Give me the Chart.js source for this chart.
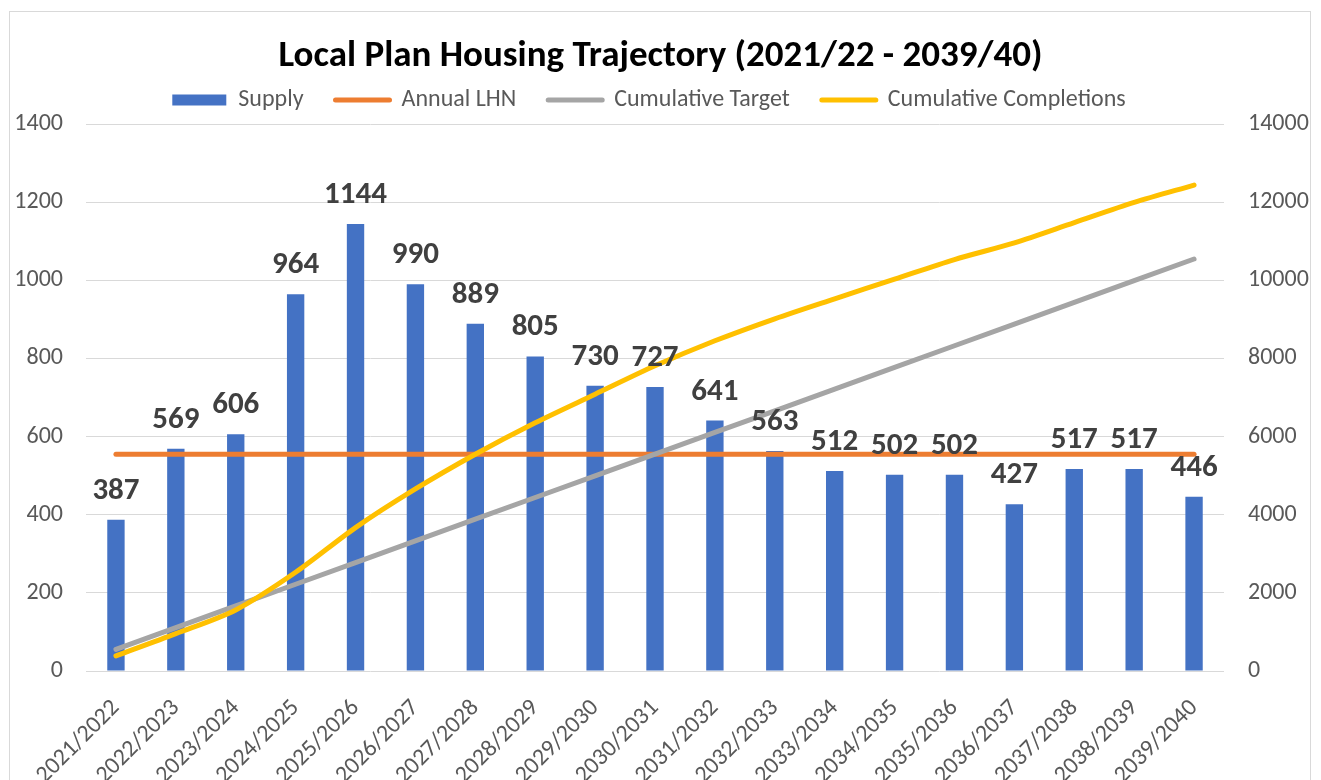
<!DOCTYPE html>
<html><head><meta charset="utf-8">
<script src="https://cdn.jsdelivr.net/npm/chart.js@4/dist/chart.umd.min.js"></script>
<style>
html,body{margin:0;padding:0;background:#fff;}
#wrap{position:relative;width:1321px;height:780px;overflow:hidden;}
#frame{position:absolute;left:9px;top:11px;width:1302px;height:820px;border:1.5px solid #d9d9d9;box-sizing:border-box;}
#c{position:absolute;left:0;top:0;}
</style></head><body>
<div id="wrap"><div id="frame"></div><canvas id="c" width="1321" height="780"></canvas></div>
<script>
const categories = ['2021/2022','2022/2023','2023/2024','2024/2025','2025/2026','2026/2027','2027/2028','2028/2029','2029/2030','2030/2031','2031/2032','2032/2033','2033/2034','2034/2035','2035/2036','2036/2037','2037/2038','2038/2039','2039/2040'];
const supply = [387,569,606,964,1144,990,889,805,730,727,641,563,512,502,502,427,517,517,446];
const annualLHN = [555,555,555,555,555,555,555,555,555,555,555,555,555,555,555,555,555,555,555];
const cumulativeTarget = [555,1110,1665,2220,2775,3330,3885,4440,4995,5550,6105,6660,7215,7770,8325,8880,9435,9990,10545];
const cumulativeCompletions = [387,956,1562,2526,3670,4660,5549,6354,7084,7811,8452,9015,9527,10029,10531,10958,11475,11992,12438];
const leftTicks = [0,200,400,600,800,1000,1200,1400];
const rightTicks = [0,2000,4000,6000,8000,10000,12000,14000];
const titleText = 'Local Plan Housing Trajectory (2021/22 - 2039/40)';

const FONT = 'Carlito, Lato, "Open Sans", sans-serif';
const TICK_COLOR = '#595959';
const TITLE_SIZE = 37, TITLE_LH = TITLE_SIZE * 1.2;
const LEG_SIZE = 24, LEG_PAD = 32;
const TITLE_PAD_TOP = 124 - TITLE_LH - (LEG_SIZE + LEG_PAD + 10);

const layoutTweak = {
  id: 'layoutTweak',
  afterLayout(chart) {
    const t = chart.titleBlock;
    if (t) {
      const d = 57 - (t.top + TITLE_PAD_TOP + TITLE_LH / 2);
      t.top += d; t.bottom += d;
    }
    const l = chart.legend;
    if (l) {
      const d = 100 - (l.top + LEG_PAD + LEG_SIZE / 2);
      l.top += d; l.bottom += d;
      const s = (2 * 665 - LEG_PAD - (l.left + l.right)) / 2;
      l.left += s; l.right += s;
    }
  }
};

const barLabels = {
  id: 'barLabels',
  afterDatasetsDraw(chart) {
    const meta = chart.getDatasetMeta(0);
    const ctx = chart.ctx;
    ctx.save();
    ctx.font = 'bold 31px ' + FONT;
    ctx.fillStyle = '#404040';
    ctx.textAlign = 'center';
    ctx.textBaseline = 'alphabetic';
    meta.data.forEach((bar, i) => {
      ctx.fillText(String(supply[i]), bar.x, bar.y - 21);
    });
    ctx.restore();
  }
};

new Chart(document.getElementById('c'), {
  data: {
    labels: categories,
    datasets: [
      { type: 'bar', label: 'Supply', data: supply, backgroundColor: '#4472C4', yAxisID: 'y', order: 4,
        barPercentage: 0.29, categoryPercentage: 1 },
      { type: 'line', label: 'Annual LHN', data: annualLHN, borderColor: '#ED7D31', backgroundColor: '#ED7D31',
        borderWidth: 5, borderCapStyle: 'round', pointRadius: 0, pointHoverRadius: 0, yAxisID: 'y', order: 3 },
      { type: 'line', label: 'Cumulative Target', data: cumulativeTarget, borderColor: '#A5A5A5', backgroundColor: '#A5A5A5',
        borderWidth: 5, borderCapStyle: 'round', pointRadius: 0, pointHoverRadius: 0, yAxisID: 'y1', order: 2 },
      { type: 'line', label: 'Cumulative Completions', data: cumulativeCompletions, borderColor: '#FFC000', backgroundColor: '#FFC000',
        borderWidth: 5, borderCapStyle: 'round', pointRadius: 0, pointHoverRadius: 0, tension: 0.3, yAxisID: 'y1', order: 1 }
    ]
  },
  options: {
    responsive: false,
    devicePixelRatio: 1,
    animation: false,
    layout: { padding: 0 },
    plugins: {
      title: { display: true, text: titleText, color: '#000000',
        font: { family: FONT, size: TITLE_SIZE, weight: 'bold', lineHeight: 1.2 },
        padding: { top: TITLE_PAD_TOP, bottom: 0 } },
      legend: {
        display: true, position: 'top', align: 'center',
        labels: {
          usePointStyle: true, pointStyleWidth: 54, boxHeight: 11, padding: LEG_PAD,
          color: TICK_COLOR, font: { family: FONT, size: LEG_SIZE },
          sort: (a, b) => a.datasetIndex - b.datasetIndex,
          generateLabels(chart) {
            const items = Chart.defaults.plugins.legend.labels.generateLabels(chart);
            items.forEach(it => {
              const ds = chart.data.datasets[it.datasetIndex];
              if (ds.type === 'bar') { it.pointStyle = 'rect'; it.lineWidth = 0; }
              else { it.pointStyle = 'line'; it.lineWidth = 5; it.lineCap = 'round'; }
            });
            return items;
          }
        }
      },
      tooltip: { enabled: false }
    },
    scales: {
      x: {
        type: 'category', offset: true,
        grid: { display: false }, border: { display: false },
        ticks: { color: TICK_COLOR, font: { family: FONT, size: 24 }, maxRotation: 45, minRotation: 45, autoSkip: false, padding: 15 },
        afterFit(s) { s.height = 109; }
      },
      y: {
        position: 'left', min: 0, max: 1400,
        grid: { color: '#d9d9d9', lineWidth: 1, drawTicks: false }, border: { display: false },
        ticks: { color: TICK_COLOR, font: { family: FONT, size: 24 }, padding: 23, callback: v => String(v) },
        afterBuildTicks(s) { s.ticks = leftTicks.map(v => ({ value: v })); },
        afterFit(s) { s.width = 86; }
      },
      y1: {
        position: 'right', min: 0, max: 14000,
        grid: { drawOnChartArea: false, drawTicks: false }, border: { display: false },
        ticks: { color: TICK_COLOR, font: { family: FONT, size: 24 }, padding: 24, callback: v => String(v) },
        afterBuildTicks(s) { s.ticks = rightTicks.map(v => ({ value: v })); },
        afterFit(s) { s.width = 97; }
      }
    }
  },
  plugins: [layoutTweak, barLabels]
});
</script>
</body></html>
